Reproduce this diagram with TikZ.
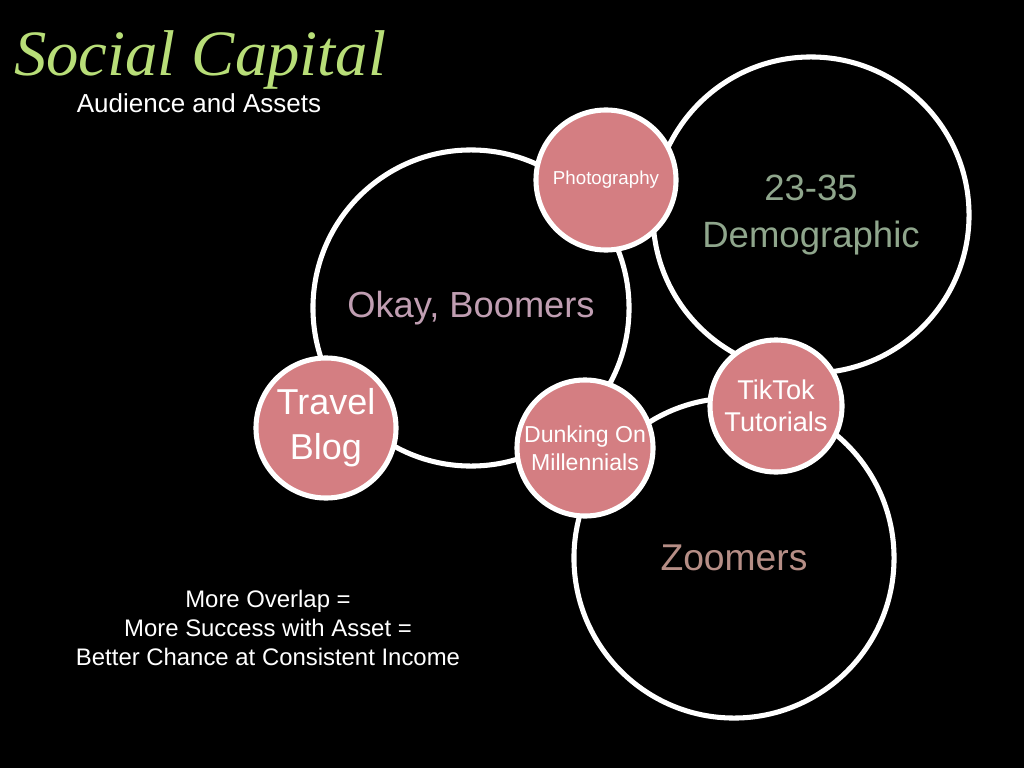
\documentclass[tikz,border=0pt]{standalone}
\usepackage{fontspec}
\setmainfont{Liberation Sans}
\newfontfamily\titlefont{Liberation Serif}
\usepackage{tikz}
\usepackage{xcolor}
\definecolor{bubblepink}{RGB}{212,126,130}
\definecolor{boomermauve}{RGB}{192,158,178}
\definecolor{demogreen}{RGB}{143,166,140}
\definecolor{zoomerrose}{RGB}{182,142,134}
\definecolor{titlegreen}{RGB}{184,222,120}
\tikzset{
    audience-ring/.style = {draw=white, line width=3.6pt, circle, minimum size=7.9cm, inner sep=0pt, align=center},
    asset-bubble/.style = {draw=white, fill=bubblepink, line width=3.6pt, circle, inner sep=0pt, align=center, text=white},
}

\begin{document}
\begin{tikzpicture}[x=0.025cm, y=-0.025cm]
\fill[black] (0,0) rectangle (1024,768);
\useasboundingbox (0,0) rectangle (1024,768);
% title
\node[text=titlegreen, font=\titlefont\itshape\fontsize{46}{50}\selectfont] (title) at (200,60) {Social Capital};
\node[text=white, font=\fontsize{18.5}{22}\selectfont] (subtitle) at (199,103) {Audience and Assets};
% audiences
\node[audience-ring, text=boomermauve, font=\fontsize{25.8}{31}\selectfont] (boomers) at (471,308) {Okay, Boomers};
\node[audience-ring, text=demogreen, font=\fontsize{26}{33}\selectfont] (demo) at (811,215) {23-35\\Demographic};
\node[audience-ring, minimum size=8cm, text=zoomerrose, font=\fontsize{26.5}{31}\selectfont] (zoomers) at (734,558) {Zoomers};
% assets
\node[asset-bubble, minimum size=3.5cm, font=\fontsize{13.3}{16}\selectfont] (photo) at (606,180) {Photography};
\node[asset-bubble, minimum size=3.5cm, font=\fontsize{25.6}{32}\selectfont] (travel) at (326,428) {Travel\\Blog};
\node[asset-bubble, minimum size=3.4cm, font=\fontsize{16.4}{20}\selectfont] (dunking) at (585,448) {Dunking On\\Millennials};
\node[asset-bubble, minimum size=3.3cm, font=\fontsize{19.3}{22.8}\selectfont] (tiktok) at (776,406) {TikTok\\Tutorials};
% note
\node[text=white, align=center, font=\fontsize{17}{20.6}\selectfont] (note) at (268,628) {More Overlap =\\More Success with Asset =\\Better Chance at Consistent Income};
\end{tikzpicture}
\end{document}
